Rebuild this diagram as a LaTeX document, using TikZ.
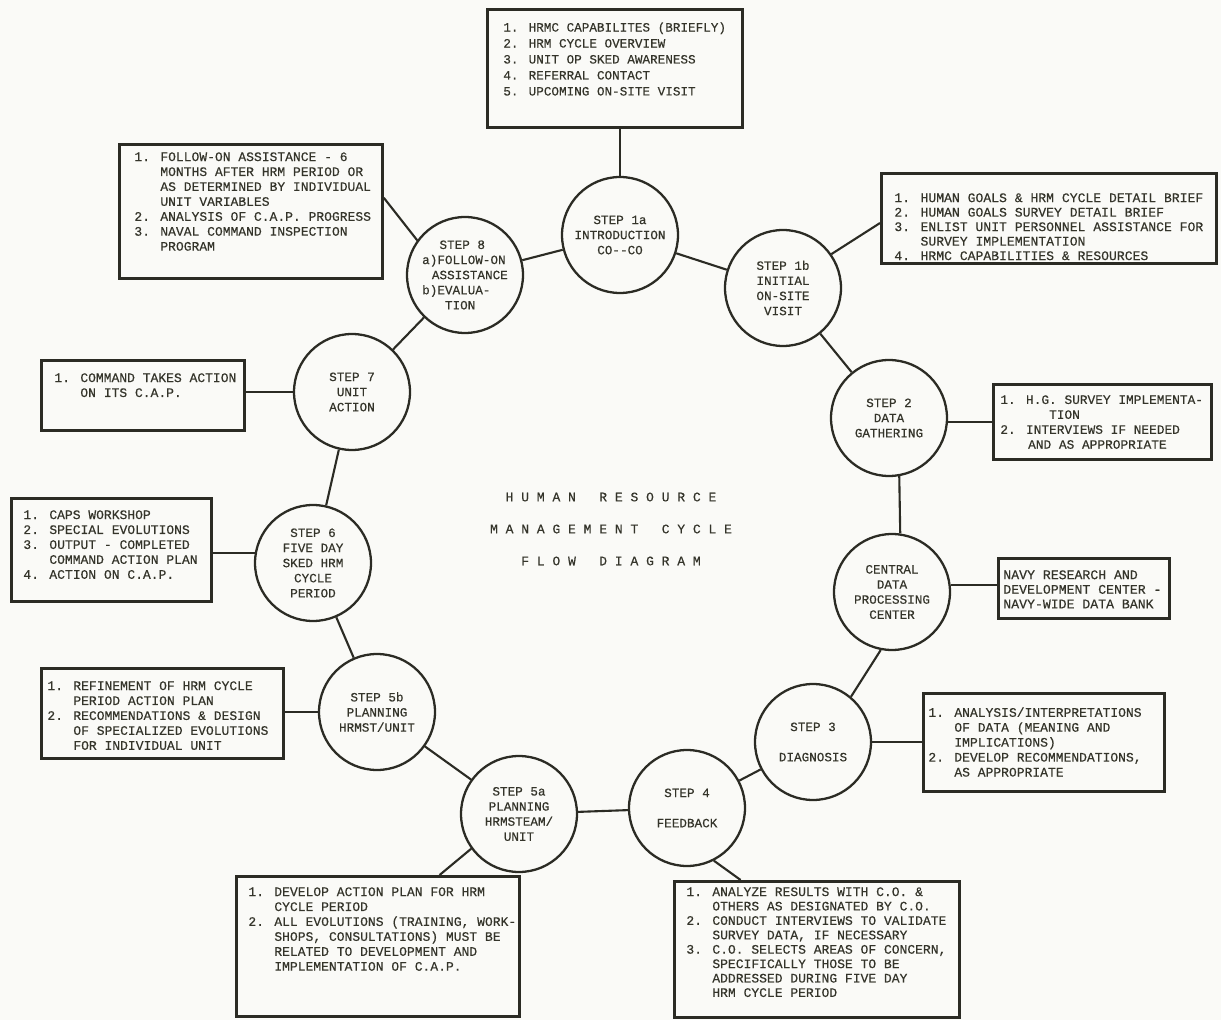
\documentclass[tikz,border=0pt]{standalone}
\usepackage{fontspec}
\newfontfamily\tw[FakeBold=0.35]{Liberation Mono}
\usetikzlibrary{calc}
\definecolor{ink}{HTML}{2B2B24}
\definecolor{txt}{HTML}{34342A}
\definecolor{paper}{HTML}{FAFAF7}
\newcommand{\ind}{\phantom{1. }}
\begin{document}
\begin{tikzpicture}[x=0.02cm,y=-0.02cm,
  stepc/.style={circle,draw=ink,line width=1.3pt,minimum size=2.32cm,inner sep=0pt,align=center,text=txt,font=\tw\fontsize{7.2}{8.6}\selectfont},
  boxn/.style={draw=ink,line width=1.6pt,anchor=north west,inner sep=0pt},
  txtn/.style={anchor=north west,inner sep=0pt,align=left,text=txt,font=\tw\fontsize{7.4}{8.5}\selectfont},
  link/.style={draw=ink,line width=1.2pt}]
\fill[paper] (0,0) rectangle (1221,1020);
\useasboundingbox (0,0) rectangle (1221,1020);

% ---- circles ----
\node[stepc] (c1a) at (620,235) {STEP 1a\\INTRODUCTION\\CO-{}-CO};
\node[stepc] (c1b) at (783,288) {STEP 1b\\INITIAL\\ON-SITE\\VISIT};
\node[stepc] (c2) at (889,418) {STEP 2\\DATA\\GATHERING};
\node[stepc] (ccd) at (892,592) {CENTRAL\\DATA\\PROCESSING\\CENTER};
\node[stepc] (c3) at (813,742) {STEP 3\\\mbox{}\\DIAGNOSIS};
\node[stepc] (c4) at (687,808) {STEP 4\\\mbox{}\\FEEDBACK};
\node[stepc] (c5a) at (519,814) {STEP 5a\\PLANNING\\HRMSTEAM/\\UNIT};
\node[stepc] (c5b) at (377,712) {STEP 5b\\PLANNING\\HRMST/UNIT};
\node[stepc] (c6) at (313,563) {STEP 6\\FIVE DAY\\SKED HRM\\CYCLE\\PERIOD};
\node[stepc] (c7) at (352,392) {STEP 7\\UNIT\\ACTION};
\node[stepc,align=left] (c8) at (465,275) {\phantom{xx}\,STEP 8\\a)FOLLOW-ON\\\phantom{x}\,ASSISTANCE\\b)EVALUA-\\\phantom{xxx}TION};

% ---- cycle connectors ----
\draw[link] (c8) -- (c1a);
\draw[link] (c1a) -- (c1b);
\draw[link] (c1b) -- (c2);
\draw[link] (c2.-80) -- (ccd.82);
\draw[link] (ccd.-101) -- (c3.50);
\draw[link] (c3) -- (c4);
\draw[link] (c4) -- (c5a);
\draw[link] (c5a) -- (c5b);
\draw[link] (c5b) -- (c6);
\draw[link] (c6) -- (c7);
\draw[link] (c7) -- (c8);

% ---- title ----
\node[text=txt,align=center,inner sep=0pt,font=\tw\fontsize{7.4}{18.2}\selectfont] (title) at (611,529)
  {H~U~M~A~N~~~R~E~S~O~U~R~C~E\\M~A~N~A~G~E~M~E~N~T~~~C~Y~C~L~E\\F~L~O~W~~~D~I~A~G~R~A~M};

% ---- boxes ----
\node[boxn,minimum width=5.1cm,minimum height=2.36cm] (b1a) at (486,8) {};
\node[txtn,font=\tw\fontsize{7.2}{9.1}\selectfont] (t1a) at (503,22) {1. HRMC CAPABILITES (BRIEFLY)\\2. HRM CYCLE OVERVIEW\\3. UNIT OP SKED AWARENESS\\4. REFERRAL CONTACT\\5. UPCOMING ON-SITE VISIT};

\node[boxn,minimum width=5.26cm,minimum height=2.68cm] (b8) at (118,143) {};
\node[txtn] (t8) at (134,152) {1. FOLLOW-ON ASSISTANCE - 6\\\ind MONTHS AFTER HRM PERIOD OR\\\ind AS DETERMINED BY INDIVIDUAL\\\ind UNIT VARIABLES\\2. ANALYSIS OF C.A.P. PROGRESS\\3. NAVAL COMMAND INSPECTION\\\ind PROGRAM};

\node[boxn,minimum width=6.7cm,minimum height=1.8cm] (b1b) at (880,172) {};
\node[txtn,font=\tw\fontsize{7.45}{8.25}\selectfont] (t1b) at (894,193) {1. HUMAN GOALS \& HRM CYCLE DETAIL BRIEF\\2. HUMAN GOALS SURVEY DETAIL BRIEF\\3. ENLIST UNIT PERSONNEL ASSISTANCE FOR\\\ind SURVEY IMPLEMENTATION\\4. HRMC CAPABILITIES \& RESOURCES};

\node[boxn,minimum width=4.06cm,minimum height=1.4cm] (b7) at (40,359) {};
\node[txtn] (t7) at (54,373) {1. COMMAND TAKES ACTION\\\ind ON ITS C.A.P.};

\node[boxn,minimum width=4.36cm,minimum height=1.5cm] (b2) at (992,383) {};
\node[txtn,font=\tw\fontsize{7.3}{8.5}\selectfont] (t2) at (1000,395) {1. H.G. SURVEY IMPLEMENTA-\\\phantom{1. H.G}TION\\2. INTERVIEWS IF NEEDED\\\phantom{1. }\,AND AS APPROPRIATE};

\node[boxn,minimum width=4.0cm,minimum height=2.06cm] (b6) at (10,497) {};
\node[txtn] (t6) at (23,510) {1. CAPS WORKSHOP\\2. SPECIAL EVOLUTIONS\\3. OUTPUT - COMPLETED\\\ind COMMAND ACTION PLAN\\4. ACTION ON C.A.P.};

\node[boxn,minimum width=3.42cm,minimum height=1.2cm] (bcd) at (997,557) {};
\node[txtn,font=\tw\fontsize{7.5}{8.3}\selectfont] (tcd) at (1003,570) {NAVY RESEARCH AND\\DEVELOPMENT CENTER -\\NAVY-WIDE DATA BANK};

\node[boxn,minimum width=4.84cm,minimum height=1.8cm] (b5b) at (40,667) {};
\node[txtn] (t5b) at (47,681) {1. REFINEMENT OF HRM CYCLE\\\ind PERIOD ACTION PLAN\\2. RECOMMENDATIONS \& DESIGN\\\ind OF SPECIALIZED EVOLUTIONS\\\ind FOR INDIVIDUAL UNIT};

\node[boxn,minimum width=4.82cm,minimum height=1.96cm] (b3) at (922,692) {};
\node[txtn] (t3) at (928,707) {1. ANALYSIS/INTERPRETATIONS\\\ind OF DATA (MEANING AND\\\ind IMPLICATIONS)\\2. DEVELOP RECOMMENDATIONS,\\\ind AS APPROPRIATE};

\node[boxn,minimum width=5.66cm,minimum height=2.8cm] (b5a) at (235,875) {};
\node[txtn] (t5a) at (248,887) {1. DEVELOP ACTION PLAN FOR HRM\\\ind CYCLE PERIOD\\2. ALL EVOLUTIONS (TRAINING, WORK-\\\ind SHOPS, CONSULTATIONS) MUST BE\\\ind RELATED TO DEVELOPMENT AND\\\ind IMPLEMENTATION OF C.A.P.};

\node[boxn,minimum width=5.7cm,minimum height=2.72cm] (b4) at (673,880) {};
\node[txtn,font=\tw\fontsize{7.4}{8.2}\selectfont] (t4) at (686,887) {1. ANALYZE RESULTS WITH C.O. \&\\\ind OTHERS AS DESIGNATED BY C.O.\\2. CONDUCT INTERVIEWS TO VALIDATE\\\ind SURVEY DATA, IF NECESSARY\\3. C.O. SELECTS AREAS OF CONCERN,\\\ind SPECIFICALLY THOSE TO BE\\\ind ADDRESSED DURING FIVE DAY\\\ind HRM CYCLE PERIOD};

% ---- box connectors ----
\draw[link] (c1a.north) -- (c1a.north |- b1a.south);
\draw[link] ($(b8.north east)!0.4!(b8.south east)$) -- (c8.144);
\draw[link] ($(b1b.north west)!0.55!(b1b.south west)$) -- (c1b.35);
\draw[link] (c7.180) -- (c7.180 -| b7.east);
\draw[link] (c2.-4) -- (c2.-4 -| b2.west);
\draw[link] (c6.170) -- (c6.170 -| b6.east);
\draw[link] (ccd.7) -- (ccd.7 -| bcd.west);
\draw[link] (c5b.180) -- (c5b.180 -| b5b.east);
\draw[link] (c3.0) -- (c3.0 -| b3.west);
\draw[link] (c5a.216) -- ($(b5a.north west)!0.716!(b5a.north east)$);
\draw[link] (c4.-63) -- ($(b4.north west)!0.235!(b4.north east)$);
\end{tikzpicture}
\end{document}
